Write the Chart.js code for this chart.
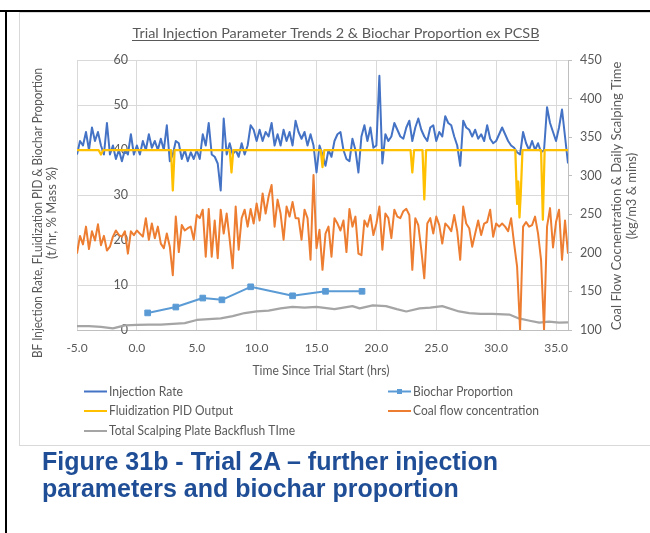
<!DOCTYPE html>
<html>
<head>
<meta charset="utf-8">
<script src="https://cdn.jsdelivr.net/npm/chart.js@4.4.1/dist/chart.umd.min.js"></script>
<style>
  html, body { margin: 0; padding: 0; background: #fff; width: 650px; height: 533px; overflow: hidden; }
  #rule-top { position: absolute; left: 0; top: 10px; width: 650px; height: 2px; background: #000; }
  #rule-left { position: absolute; left: 5px; top: 10px; width: 2px; height: 523px; background: #000; }
  #frame { position: absolute; left: 19px; top: 12px; width: 660px; height: 432px; border: 1px solid #d9d9d9; background: #fff; }
  #plot { position: absolute; left: 0; top: 0; }
  #caption { position: absolute; left: 42px; top: 448px; font: bold 25px/27px "Liberation Sans", Arial, sans-serif; color: #1F4E96; white-space: nowrap; }
</style>
</head>
<body>
<div id="rule-top"></div>
<div id="rule-left"></div>
<div id="frame"></div>
<canvas id="plot" width="650" height="533"></canvas>
<div id="caption">Figure 31b - Trial 2A – further injection<br>parameters and biochar proportion</div>
<script>
// Time since trial start (hrs), sampled every quarter hour
const hours = [
  -5, -4.75, -4.5, -4.25,
  -4, -3.75, -3.5, -3.25,
  -3, -2.75, -2.5, -2.25,
  -2, -1.75, -1.5, -1.25,
  -1, -0.75, -0.5, -0.25,
  0, 0.25, 0.5, 0.75,
  1, 1.25, 1.5, 1.75,
  2, 2.25, 2.5, 2.75,
  3, 3.25, 3.5, 3.75,
  4, 4.25, 4.5, 4.75,
  5, 5.25, 5.5, 5.75,
  6, 6.25, 6.5, 6.75,
  7, 7.25, 7.5, 7.75,
  8, 8.25, 8.5, 8.75,
  9, 9.25, 9.5, 9.75,
  10, 10.25, 10.5, 10.75,
  11, 11.25, 11.5, 11.75,
  12, 12.25, 12.5, 12.75,
  13, 13.25, 13.5, 13.75,
  14, 14.25, 14.5, 14.75,
  15, 15.25, 15.5, 15.75,
  16, 16.25, 16.5, 16.75,
  17, 17.25, 17.5, 17.75,
  18, 18.25, 18.5, 18.75,
  19, 19.25, 19.5, 19.75,
  20, 20.25, 20.5, 20.75,
  21, 21.25, 21.5, 21.75,
  22, 22.25, 22.5, 22.75,
  23, 23.25, 23.5, 23.75,
  24, 24.25, 24.5, 24.75,
  25, 25.25, 25.5, 25.75,
  26, 26.25, 26.5, 26.75,
  27, 27.25, 27.5, 27.75,
  28, 28.25, 28.5, 28.75,
  29, 29.25, 29.5, 29.75,
  30, 30.25, 30.5, 30.75,
  31, 31.25, 31.5, 31.75,
  32, 32.25, 32.5, 32.75,
  33, 33.25, 33.5, 33.75,
  34, 34.25, 34.5, 34.75,
  35, 35.25, 35.5, 35.75,
  36
];

// BF injection rate (t/hr)
const injectionRate = [
  39, 42, 41, 44,
  40, 45, 42, 44,
  41, 39, 46, 39,
  41, 38, 40, 37.5,
  40, 39, 43.5, 39,
  41, 39, 42, 40,
  43.5, 40.5, 42, 40,
  42.5, 40, 45.5, 37.5,
  39, 42, 41.5, 38,
  40, 37.5, 39.5, 38,
  40, 38, 43.5, 41,
  46, 39, 38.5, 37,
  31, 47, 39, 41.5,
  39, 40, 38.5, 41.5,
  39, 41, 45.5, 44.5,
  42, 44.5, 42, 44,
  43, 46, 41, 43.5,
  41, 44.5, 42, 44,
  41, 46.5, 44, 42.5,
  44, 41, 43.5, 41,
  35, 41, 39, 36.5,
  40, 38.5, 42, 43.5,
  44, 40, 38, 37.5,
  42.5, 40, 35, 43,
  45.5, 42, 45, 40.5,
  41, 56.5, 37, 43.5,
  42, 43, 46, 44.5,
  43, 42.5, 45, 46.5,
  42, 45, 47, 44.5,
  43, 42, 45, 45.5,
  42, 44, 43, 47.5,
  46, 45.5, 43, 41,
  36.5, 46.5, 45, 44.5,
  43, 44.5, 42.5, 43.5,
  42, 45.5, 42.5, 41.5,
  42, 43.5, 45, 43.5,
  42, 41, 40.5, 39.5,
  39, 44, 41.5, 40,
  42, 40, 41.5, 39.5,
  40, 49.5, 46, 44,
  42, 45, 49, 43,
  37
];

// Coal flow concentration (kg/m3)
const coalFlow = [
  199, 222, 211, 234,
  205, 228, 216, 237,
  210, 222, 203, 208,
  221, 229, 223, 221,
  228, 199, 228, 223,
  229, 225, 221, 245,
  217, 238, 219, 234,
  212, 206, 225, 208,
  171, 247, 201, 236,
  229, 232, 234, 217,
  249, 245, 256, 195,
  257, 195, 242, 193,
  256, 225, 251, 217,
  180, 260, 204, 245,
  256, 234, 257, 238,
  264, 242, 277, 251,
  273, 288, 234, 269,
  251, 217, 260, 247,
  266, 245, 245, 217,
  256, 245, 191, 301,
  206, 230, 178, 225,
  234, 195, 245, 238,
  229, 242, 201, 257,
  234, 247, 199, 197,
  242, 234, 249, 223,
  238, 260, 204, 251,
  245, 219, 256, 247,
  245, 254, 257, 249,
  178, 245, 236, 204,
  167, 238, 245, 225,
  247, 236, 212, 238,
  234, 228, 249, 228,
  191, 260, 238, 232,
  208, 225, 242, 223,
  238, 240, 256, 221,
  238, 234, 238, 234,
  228, 245, 212, 182,
  100, 234, 240, 234,
  236, 247, 225, 191,
  100, 234, 258, 207,
  240, 256, 191, 242,
  199
];

// Fluidization PID output: steady near 40 with short drops
const pidHours = [-5, -3.2, -3.0, -2.8, 2.85, 3.0, 3.15, 7.75, 7.9, 8.05, 15.35, 15.5, 15.65,
  22.85, 23.0, 23.15, 23.85, 24.0, 24.15, 31.6, 31.75, 31.85, 31.95, 32.05, 32.2, 33.75, 33.9, 34.05, 36];
const pidOutput = [40, 40, 39, 40, 40, 31, 40, 40, 35, 40, 40, 36.2, 40,
  40, 35, 40, 40, 29, 40, 40, 28, 33, 25, 30, 40, 40, 24.5, 40, 40];

// Biochar proportion (% mass)
const biocharHours = [0.9, 3.25, 5.5, 7.1, 9.5, 13, 15.75, 18.8];
const biocharPct = [3.8, 5.1, 7.1, 6.7, 9.6, 7.6, 8.6, 8.6];

// Total scalping plate backflush time (mins)
const scalpHours = [-5, -4, -3, -2.5, -2, -1.5, -1, 0, 1, 2, 3, 4, 5, 6, 7, 8, 9, 10, 11, 12, 13, 14, 15,
  16.5, 18, 18.6, 19.7, 20.8, 21.7, 22.5, 23.6, 24.5, 25.5, 26.9, 27.75, 28.7, 29.7, 31.1, 31.9, 32.8, 33.6, 34.4, 35.25, 36];
const scalpTime = [105, 105, 104, 103, 102, 104, 106, 106.5, 107, 107, 108, 109, 113, 114, 115, 118, 122, 124, 125, 128, 130, 129, 130,
  127, 131, 128, 132, 131, 127, 124, 128, 129, 131, 124, 122, 121, 121, 120, 115, 112, 109.5, 111, 109.5, 110];

const xTicks = { min: -5, max: 36, step: 5 };
const leftTicks = { min: 0, max: 60, step: 10 };
const rightTicks = { min: 100, max: 450, step: 50 };

const pts = (xs, ys) => xs.map((x, i) => ({ x: x, y: ys[i] }));

const TEXT = '#595959';
const FONT = 'Lato, "Open Sans", sans-serif';

// draws a line of text squeezed/stretched to a given width
function fitText(ctx, text, x, y, width, rot) {
  ctx.save();
  ctx.translate(x, y);
  if (rot) ctx.rotate(rot);
  const w = ctx.measureText(text).width;
  if (width) ctx.scale(width / w, 1);
  ctx.fillText(text, 0, 0);
  ctx.restore();
}

const decorations = {
  id: 'decorations',
  afterDraw(chart) {
    const ctx = chart.ctx;
    ctx.save();
    ctx.fillStyle = TEXT;
    ctx.textBaseline = 'alphabetic';
    ctx.textAlign = 'center';

    // chart title, underlined
    ctx.font = '14px ' + FONT;
    fitText(ctx, 'Trial Injection Parameter Trends 2 & Biochar Proportion ex PCSB', 336, 38, 407);
    ctx.fillRect(132, 40, 407, 1);

    // axis titles
    ctx.textBaseline = 'middle';
    ctx.font = '13px ' + FONT;
    fitText(ctx, 'Time Since Trial Start (hrs)', 321, 371, 137);
    fitText(ctx, 'BF Injection Rate, FLuidization PID & Biochar Proportion', 38, 213, 290, -Math.PI / 2);
    fitText(ctx, '(t/hr, % Mass %)', 52, 213, 0, -Math.PI / 2);
    fitText(ctx, 'Coal Flow Cocnentration & Daily Scalping Time', 617, 196, 0, -Math.PI / 2);
    fitText(ctx, '(kg/m3 & mins)', 632, 196, 0, -Math.PI / 2);

    // legend in two columns
    const ds = chart.data.datasets;
    const slots = [
      { i: 0, x: 84, y: 391.5, w: 74 },
      { i: 1, x: 388, y: 391.5, w: 100 },
      { i: 2, x: 84, y: 411, w: 124 },
      { i: 3, x: 388, y: 411, w: 126 },
      { i: 4, x: 84, y: 431, w: 186 }
    ];
    ctx.textAlign = 'left';
    slots.forEach(s => {
      const d = ds[s.i];
      ctx.strokeStyle = d.borderColor;
      ctx.lineWidth = 2;
      ctx.beginPath();
      ctx.moveTo(s.x, s.y);
      ctx.lineTo(s.x + 23, s.y);
      ctx.stroke();
      if (d.pointRadius) {
        ctx.fillStyle = d.backgroundColor;
        ctx.fillRect(s.x + 9, s.y - 2.5, 5, 5);
      }
      ctx.fillStyle = TEXT;
      fitText(ctx, d.label, s.x + 25, s.y, s.w);
    });
    ctx.restore();
  }
};

new Chart(document.getElementById('plot'), {
  type: 'line',
  data: {
    datasets: [
      { label: 'Injection Rate', data: pts(hours, injectionRate), yAxisID: 'y',
        borderColor: '#4472C4', backgroundColor: '#4472C4', borderWidth: 2, pointRadius: 0, order: 3 },
      { label: 'Biochar Proportion', data: pts(biocharHours, biocharPct), yAxisID: 'y',
        borderColor: '#5B9BD5', backgroundColor: '#5B9BD5', borderWidth: 2, pointRadius: 4,
        pointStyle: 'rect', pointBorderWidth: 1, order: 1 },
      { label: 'Fluidization PID Output', data: pts(pidHours, pidOutput), yAxisID: 'y',
        borderColor: '#FFC000', backgroundColor: '#FFC000', borderWidth: 2.25, pointRadius: 0, order: 2 },
      { label: 'Coal flow concentration', data: pts(hours, coalFlow), yAxisID: 'y2',
        borderColor: '#ED7D31', backgroundColor: '#ED7D31', borderWidth: 2, pointRadius: 0, order: 4 },
      { label: 'Total Scalping Plate Backflush TIme', data: pts(scalpHours, scalpTime), yAxisID: 'y2',
        borderColor: '#A5A5A5', backgroundColor: '#A5A5A5', borderWidth: 2.25, pointRadius: 0, order: 5 }
    ]
  },
  options: {
    responsive: false,
    animation: false,
    devicePixelRatio: 1,
    layout: { padding: { left: 77, top: 60, right: 42, bottom: 173 } },
    elements: { line: { tension: 0, borderJoinStyle: 'round' } },
    plugins: { legend: { display: false }, title: { display: false }, tooltip: { enabled: false } },
    scales: {
      x: {
        type: 'linear', min: xTicks.min, max: xTicks.max,
        afterFit: s => { s.height = 30; },
        ticks: { stepSize: xTicks.step, includeBounds: false, padding: 11, maxRotation: 0, autoSkip: false,
          color: TEXT, font: { family: FONT, size: 12 }, callback: v => Number(v).toFixed(1) },
        grid: { color: '#d9d9d9', drawTicks: false },
        border: { color: '#bfbfbf' }
      },
      y: {
        type: 'linear', axis: 'y', position: { x: -0.75 }, min: leftTicks.min, max: leftTicks.max,
        ticks: { stepSize: leftTicks.step, color: TEXT, font: { family: FONT, size: 12.5 } },
        grid: { color: '#d9d9d9', drawTicks: false },
        border: { display: false }
      },
      y2: {
        type: 'linear', position: 'right', min: rightTicks.min, max: rightTicks.max,
        afterFit: s => { s.width = 40; },
        ticks: { stepSize: rightTicks.step, padding: 8, color: TEXT, font: { family: FONT, size: 12.5 } },
        grid: { drawOnChartArea: false, tickLength: 4, color: '#bfbfbf' },
        border: { color: '#bfbfbf' }
      }
    }
  },
  plugins: [decorations]
});
</script>
</body>
</html>
